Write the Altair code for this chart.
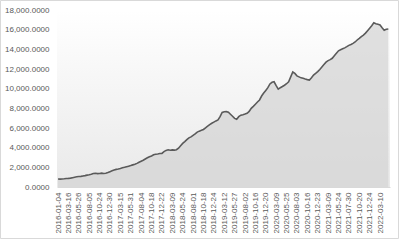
import altair as alt
import pandas as pd

label_dates = [
    "2016-01-04", "2016-03-16", "2016-05-26", "2016-08-05", "2016-10-24", "2016-12-30",
    "2017-03-15", "2017-05-31", "2017-08-04", "2017-10-18", "2017-12-22", "2018-03-09",
    "2018-05-24", "2018-08-01", "2018-10-18", "2018-12-24", "2019-03-12", "2019-05-27",
    "2019-08-02", "2019-10-16", "2019-12-20", "2020-03-09", "2020-05-25", "2020-08-03",
    "2020-10-16", "2020-12-23", "2021-03-09", "2021-05-24", "2021-07-30", "2021-10-20",
    "2021-12-24", "2022-03-10",
]
points_per_label = 5

values = [
    810, 800, 820, 840, 870, 880, 900, 950, 1000, 1040,
    1060, 1080, 1120, 1160, 1210, 1250, 1300, 1370, 1390, 1360,
    1380, 1410, 1380, 1400, 1470, 1560, 1640, 1720, 1790, 1830,
    1880, 1950, 2000, 2060, 2120, 2180, 2250, 2310, 2400, 2520,
    2620, 2720, 2850, 2970, 3080, 3160, 3280, 3330, 3360, 3400,
    3420, 3600, 3720, 3780, 3740, 3770, 3750, 3790, 3950, 4200,
    4430, 4620, 4820, 5000, 5100, 5250, 5400, 5580, 5680, 5760,
    5850, 6020, 6180, 6350, 6480, 6600, 6720, 6820, 7150, 7580,
    7650, 7660, 7600, 7400, 7200, 6980, 6880, 7150, 7300, 7350,
    7420, 7500, 7680, 8000, 8200, 8420, 8650, 8850, 9250, 9550,
    9820, 10100, 10480, 10650, 10700, 10300, 9950, 10100, 10220, 10350,
    10500, 10700, 11200, 11700, 11550, 11300, 11200, 11100, 11050, 10980,
    10920, 10880, 11100, 11380, 11550, 11730, 11950, 12200, 12450, 12700,
    12850, 12950, 13090, 13350, 13600, 13850, 13950, 14050, 14150, 14270,
    14400, 14500, 14610, 14750, 14950, 15120, 15300, 15450, 15650, 15900,
    16150, 16400, 16700, 16600, 16550, 16480, 16200, 15950, 16050, 16070,
]

df = pd.DataFrame({"idx": list(range(len(values))), "value": values})

W, H = 333, 177
PL, PT = 57, 10

label_arr = "[" + ",".join("'%s'" % d for d in label_dates) + "]"
tick_vals = [i * points_per_label for i in range(len(label_dates))]

x_enc = alt.X(
    "idx:Q",
    scale=alt.Scale(domain=[-0.5, 159.8], nice=False, zero=False),
    axis=alt.Axis(
        values=tick_vals,
        labelExpr=label_arr + "[round(datum.value / %d)]" % points_per_label,
        labelAngle=270,
        labelAlign="right",
        labelBaseline="middle",
        labelPadding=5,
        labelFontSize=8,
        labelFont="Liberation Sans",
        labelColor="#595959",
        labelOverlap=False,
        ticks=False,
        grid=False,
        domain=True,
        domainColor="#d9d9d9",
        title=None,
    ),
)
y_enc = alt.Y(
    "value:Q",
    scale=alt.Scale(domain=[0, 18000], nice=False),
    axis=alt.Axis(
        values=list(range(0, 18001, 2000)),
        format=",.4f",
        labelFontSize=8,
        labelFont="Liberation Sans",
        labelColor="#595959",
        labelPadding=8,
        ticks=False,
        grid=False,
        domain=False,
        title=None,
    ),
)

bg_df = pd.DataFrame({"a": [0]})
background = alt.Chart(bg_df).mark_rect(
    color=alt.LinearGradient(
        gradient="linear",
        x1=0, x2=0, y1=0, y2=1,
        stops=[
            alt.GradientStop(color="#ffffff", offset=0),
            alt.GradientStop(color="#e9e9e9", offset=1),
        ],
    )
).encode(x=alt.value(0), x2=alt.value(W), y=alt.value(0), y2=alt.value(H))

frame = alt.Chart(bg_df).mark_rect(
    fill=None, stroke="#d9d9d9", strokeWidth=1
).encode(
    x=alt.value(-PL + 0.5), x2=alt.value(400 - PL - 1.5),
    y=alt.value(-PT + 0.5), y2=alt.value(240 - PT - 1.5),
)

area = alt.Chart(df).mark_area(
    color="#d3d3d3",
    line={"color": "#5a5a5a", "strokeWidth": 1.6},
).encode(x=x_enc, y=y_enc)

chart = alt.layer(background, area, frame).properties(
    width=W,
    height=H,
    autosize=alt.AutoSizeParams(type="none"),
    padding={"left": PL, "top": PT, "right": 400 - PL - W, "bottom": 240 - PT - H},
    background="#ffffff",
).configure_view(stroke=None)

chart.save("out.html", embed_options={"renderer": "svg", "actions": False})
